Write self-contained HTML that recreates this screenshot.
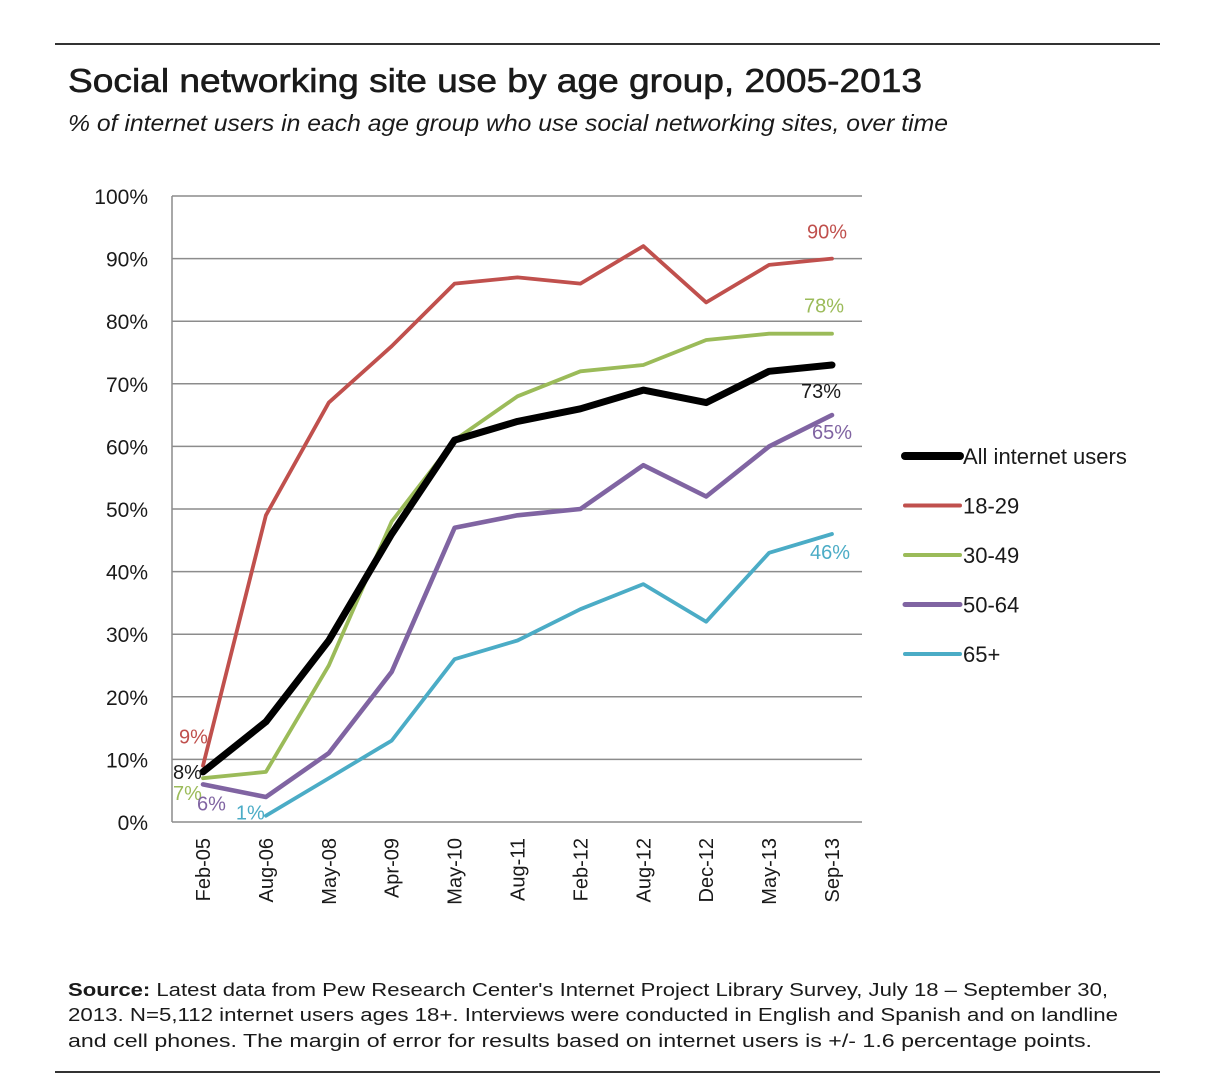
<!DOCTYPE html>
<html><head><meta charset="utf-8"><style>
html,body{margin:0;padding:0;background:#fff;}
svg{display:block;font-family:"Liberation Sans Narrow","Liberation Sans",sans-serif;}
</style></head><body>
<svg id="chart" width="1218" height="1092" viewBox="0 0 1218 1092" xmlns="http://www.w3.org/2000/svg">
<line x1="55" y1="44" x2="1160" y2="44" stroke="#333" stroke-width="2"/>
<line x1="55" y1="1072" x2="1160" y2="1072" stroke="#333" stroke-width="2"/>
<text x="68" y="92" font-size="33" fill="#1a1a1a" stroke="#1a1a1a" stroke-width="0.6" textLength="854" lengthAdjust="spacingAndGlyphs">Social networking site use by age group, 2005-2013</text>
<text x="68" y="131" font-size="23" font-style="italic" fill="#1a1a1a" textLength="880" lengthAdjust="spacingAndGlyphs">% of internet users in each age group who use social networking sites, over time</text>
<g id="grid"></g>
<g id="xlabels"></g>
<g id="series"></g>
<g id="legend"></g>
<g font-family="Liberation Sans, sans-serif" font-size="18" fill="#1a1a1a">
<text x="68" y="996" textLength="1040" lengthAdjust="spacingAndGlyphs"><tspan font-weight="bold">Source:</tspan> Latest data from Pew Research Center's Internet Project Library Survey, July 18 – September 30,</text>
<text x="68" y="1021" textLength="1050" lengthAdjust="spacingAndGlyphs">2013. N=5,112 internet users ages 18+. Interviews were conducted in English and Spanish and on landline</text>
<text x="68" y="1047" textLength="1024" lengthAdjust="spacingAndGlyphs">and cell phones.  The margin of error for results based on internet users is +/- 1.6 percentage points.</text>
</g>
</svg>
<script>
const categories=["Feb-05","Aug-06","May-08","Apr-09","May-10","Aug-11","Feb-12","Aug-12","Dec-12","May-13","Sep-13"];
const yTicks=[0,10,20,30,40,50,60,70,80,90,100];
const allUsers=[8,16,29,46,61,64,66,69,67,72,73];
const age18to29=[9,49,67,76,86,87,86,92,83,89,90];
const age30to49=[7,8,25,48,61,68,72,73,77,78,78];
const age50to64=[6,4,11,24,47,49,50,57,52,60,65];
const age65plus=[null,1,7,13,26,29,34,38,32,43,46];
const seriesNames=["All internet users","18-29","30-49","50-64","65+"];

const NS="http://www.w3.org/2000/svg";
const X0=172,X1=862,Y0=822,Y1=196;
const xs=i=>203+i*(832-203)/(categories.length-1);
const ys=v=>Y0-(v/100)*(Y0-Y1);
function mk(tag,attrs,parent){const e=document.createElementNS(NS,tag);for(const k in attrs)e.setAttribute(k,attrs[k]);parent.appendChild(e);return e;}

const grid=document.getElementById('grid');
yTicks.forEach(t=>{
  if(t>0){const l=mk('line',{x1:X0,x2:X1,y1:ys(t),y2:ys(t),stroke:'#8c8c8c','stroke-width':1.5},grid);
  
  }
  const tx=mk('text',{x:148,y:ys(t)+8,'text-anchor':'end','font-size':21,fill:'#1a1a1a','font-family':'Liberation Sans, sans-serif'},grid);
  tx.textContent=t+'%';
  
  
});
const ax=mk('line',{x1:X0,x2:X0,y1:Y1,y2:Y0,stroke:'#8c8c8c','stroke-width':1.5},grid);


const bx=mk('line',{x1:X0,x2:X1,y1:Y0,y2:Y0,stroke:'#8c8c8c','stroke-width':1.5},grid);



const xl=document.getElementById('xlabels');
categories.forEach((c,i)=>{
  const t=mk('text',{transform:`translate(${xs(i)+7},838) rotate(-90)`,'text-anchor':'end','font-size':20,fill:'#1a1a1a','font-family':'Liberation Sans, sans-serif'},xl);
  t.textContent=c;
  
  
});

const colors=['#000000','#c0504d','#9bbb59','#8064a2','#4bacc6'];
const widths=[7,3.8,3.8,4.6,3.8];
const data=[allUsers,age18to29,age30to49,age50to64,age65plus];
const sg=document.getElementById('series');
const order=[4,3,2,1,0];
order.forEach(k=>{
  const arr=data[k];let d='';
  arr.forEach((v,i)=>{if(v==null)return;d+=(d?'L':'M')+xs(i).toFixed(1)+','+ys(v).toFixed(1);});
  const p=mk('path',{d:d,fill:'none',stroke:colors[k],'stroke-width':widths[k],'stroke-linejoin':'round','stroke-linecap':'round'},sg);
  
  
});
const lastI=categories.length-1;
const labels=[
  [0,0,xs(0)-30,ys(allUsers[0])+7,'#1a1a1a'],
  [1,0,xs(0)-24,ys(age18to29[0])-22,'#c0504d'],
  [2,0,xs(0)-30,ys(age30to49[0])+22,'#9bbb59'],
  [3,0,xs(0)-6,ys(age50to64[0])+26,'#8064a2'],
  [4,1,xs(1)-30,ys(age65plus[1])+4,'#4bacc6'],
  [1,lastI,xs(lastI)-25,ys(age18to29[lastI])-20,'#c0504d'],
  [2,lastI,xs(lastI)-28,ys(age30to49[lastI])-21,'#9bbb59'],
  [0,lastI,xs(lastI)-31,ys(allUsers[lastI])+33,'#1a1a1a'],
  [3,lastI,xs(lastI)-20,ys(age50to64[lastI])+24,'#8064a2'],
  [4,lastI,xs(lastI)-22,ys(age65plus[lastI])+25,'#4bacc6']
];
labels.forEach(([k,i,x,y,c])=>{
  const t=mk('text',{x:x,y:y,'font-size':20,fill:c,'font-family':'Liberation Sans, sans-serif'},sg);
  t.textContent=data[k][i]+'%';
  
  
});

const lg=document.getElementById('legend');
seriesNames.forEach((n,k)=>{
  const y=456+k*49.5;
  const l=mk('line',{x1:905,x2:960,y1:y,y2:y,stroke:colors[k],'stroke-width':k===0?8:(k===3?5:4),'stroke-linecap':'round'},lg);
  
  
  const t=mk('text',{x:963,y:y+8,'font-size':22,fill:'#1a1a1a','font-family':'Liberation Sans, sans-serif'},lg);
  t.textContent=n;
  
  
});
</script>
</body></html>
